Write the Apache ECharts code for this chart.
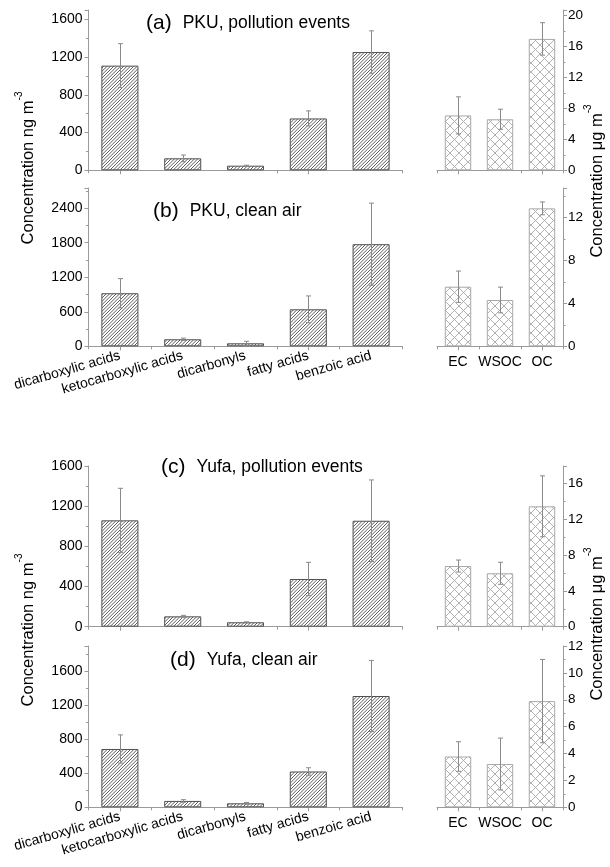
<!DOCTYPE html>
<html>
<head>
<meta charset="utf-8">
<script src="https://cdn.jsdelivr.net/npm/echarts@6/dist/echarts.min.js"></script>
<style>
html,body{margin:0;padding:0;background:#fff;}
#chart{width:610px;height:867px;}
</style>
</head>
<body>
<div id="chart"></div>
<script>
// ---- data ----
const organicCats = ['dicarboxylic acids', 'ketocarboxylic acids', 'dicarbonyls', 'fatty acids', 'benzoic acid'];
const carbonCats = ['EC', 'WSOC', 'OC'];

const panelTitles = ['(a)', '(b)', '(c)', '(d)'];
const panelNames = ['PKU, pollution events', 'PKU, clean air', 'Yufa, pollution events', 'Yufa, clean air'];

const pkuPollutionOrganic = [1110, 127, 49, 550, 1254];
const pkuPollutionOrganicErr = [233, 35, 5, 80, 225];
const pkuPollutionCarbon = [7.1, 6.6, 17.0];
const pkuPollutionCarbonErr = [2.4, 1.3, 2.1];

const pkuCleanOrganic = [922, 122, 52, 643, 1774];
const pkuCleanOrganicErr = [254, 20, 35, 232, 713];
const pkuCleanCarbon = [5.56, 4.32, 12.87];
const pkuCleanCarbonErr = [1.46, 1.2, 0.6];

const yufaPollutionOrganic = [1059, 103, 44, 475, 1055];
const yufaPollutionOrganicErr = [319, 10, 5, 166, 406];
const yufaPollutionCarbon = [6.77, 5.96, 13.43];
const yufaPollutionCarbonErr = [0.67, 1.23, 3.4];

const yufaCleanOrganic = [687, 75, 47, 422, 1311];
const yufaCleanOrganicErr = [166, 15, 10, 44, 419];
const yufaCleanCarbon = [3.78, 3.22, 7.9];
const yufaCleanCarbonErr = [1.1, 1.93, 3.1];

const organicTicks = [400, 600, 400, 400];   // tick step of left axes
const carbonTicks = [4, 4, 4, 2];            // tick step of right axes
const organicMax = [1700, 2750, 1600, 1900];
const carbonMax = [20.74, 14.77, 17.93, 12];

// ---- layout ----
const FONT = 'Liberation Sans, Arial, sans-serif';
const layout = [
  {top: 10, h: 160.3, titleY: 26, titleX: 146},
  {top: 188, h: 158.3, titleY: 214, titleX: 153},
  {top: 466, h: 160.7, titleY: 470, titleX: 161},
  {top: 646, h: 161.3, titleY: 663, titleX: 170}
];
const organicData = [pkuPollutionOrganic, pkuCleanOrganic, yufaPollutionOrganic, yufaCleanOrganic];
const organicErr = [pkuPollutionOrganicErr, pkuCleanOrganicErr, yufaPollutionOrganicErr, yufaCleanOrganicErr];
const carbonData = [pkuPollutionCarbon, pkuCleanCarbon, yufaPollutionCarbon, yufaCleanCarbon];
const carbonErr = [pkuPollutionCarbonErr, pkuCleanCarbonErr, yufaPollutionCarbonErr, yufaCleanCarbonErr];
const showCats = [false, true, false, true];

// ---- patterns ----
function hatch() {
  const s = 10, c = document.createElement('canvas');
  c.width = s; c.height = s;
  const ctx = c.getContext('2d');
  ctx.fillStyle = '#fff'; ctx.fillRect(0, 0, s, s);
  ctx.strokeStyle = '#4a4a4a'; ctx.lineWidth = 0.9;
  const step = s / 3;
  for (let k = -1; k <= 7; k++) {
    const cc = k * step;
    ctx.beginPath(); ctx.moveTo(cc + 1, -1); ctx.lineTo(cc - s - 1, s + 1); ctx.stroke();
  }
  return c;
}
function cross() {
  const s = 9, c = document.createElement('canvas');
  c.width = s; c.height = s;
  const ctx = c.getContext('2d');
  ctx.fillStyle = '#fff'; ctx.fillRect(0, 0, s, s);
  ctx.strokeStyle = '#a8a8a8'; ctx.lineWidth = 0.9;
  for (let k = -1; k <= 2; k++) {
    const cc = k * s;
    ctx.beginPath(); ctx.moveTo(cc + 1, -1); ctx.lineTo(cc - s - 1, s + 1); ctx.stroke();
    ctx.beginPath(); ctx.moveTo(cc - 1, -1); ctx.lineTo(cc + s + 1, s + 1); ctx.stroke();
  }
  return c;
}
const hatchPat = {image: hatch(), repeat: 'repeat'};
const crossPat = {image: cross(), repeat: 'repeat'};

function errRender(params, api) {
  const x = api.value(0), v = api.value(1), e = api.value(2);
  const hi = api.coord([x, v + e]);
  const lo = api.coord([x, v - e]);
  const hw = 2.5;
  const st = {stroke: '#8a8a8a', lineWidth: 1};
  const px = Math.round(hi[0]) + 0.5;
  return {
    type: 'group',
    children: [
      {type: 'line', shape: {x1: px, y1: hi[1], x2: px, y2: lo[1]}, style: st},
      {type: 'line', shape: {x1: px - hw, y1: hi[1], x2: px + hw, y2: hi[1]}, style: st},
      {type: 'line', shape: {x1: px - hw, y1: lo[1], x2: px + hw, y2: lo[1]}, style: st}
    ]
  };
}

const AX = '#9a9a9a';
const plain = v => String(Math.round(v * 1000) / 1000);
const grids = [], xAxes = [], yAxes = [], series = [], graphics = [];

layout.forEach((L, p) => {
  const gl = 2 * p, gr = 2 * p + 1;
  grids.push({left: 88.5, width: 314, top: L.top, height: L.h, outerBoundsMode: 'none', containLabel: false});
  grids.push({left: 437, width: 126, top: L.top, height: L.h, outerBoundsMode: 'none', containLabel: false});

  [[gl, organicCats, true], [gr, carbonCats, false]].forEach(([g, cats, isOrg]) => {
    xAxes.push({
      type: 'category', gridIndex: g, data: cats, position: 'bottom',
      axisLine: {show: true, lineStyle: {color: AX, width: 1}},
      axisTick: {show: true, alignWithLabel: false, length: 3, lineStyle: {color: AX}},
      axisLabel: showCats[p] ? (isOrg ? {
        show: true, rotate: 16, margin: 9, fontSize: 14, color: '#000', fontFamily: FONT, interval: 0
      } : {
        show: true, rotate: 0, margin: 9, fontSize: 14, color: '#000', fontFamily: FONT, interval: 0
      }) : {show: false},
      splitLine: {show: false}
    });
    xAxes.push({
      type: 'category', gridIndex: g, data: cats, position: 'bottom',
      axisLine: {show: false},
      axisTick: {show: true, alignWithLabel: true, length: 4, lineStyle: {color: AX}},
      axisLabel: {show: false},
      splitLine: {show: false}
    });
  });

  const lMax = organicMax[p], rMax = carbonMax[p];
  yAxes.push({
    type: 'value', gridIndex: gl, position: 'left', min: 0, max: lMax, interval: organicTicks[p],
    axisLine: {show: true, lineStyle: {color: AX}},
    axisTick: {show: true, length: 4, lineStyle: {color: AX}},
    minorTick: {show: true, splitNumber: 2, length: 2.5, lineStyle: {color: AX}},
    splitLine: {show: false}, minorSplitLine: {show: false},
    axisLabel: {color: '#000', fontSize: 14, fontFamily: FONT, margin: 6, formatter: plain,
      showMaxLabel: lMax % organicTicks[p] === 0}
  });
  yAxes.push({
    type: 'value', gridIndex: gr, position: 'right', min: 0, max: rMax, interval: carbonTicks[p],
    axisLine: {show: true, lineStyle: {color: AX}},
    axisTick: {show: true, length: 4, lineStyle: {color: AX}},
    minorTick: {show: true, splitNumber: 2, length: 2.5, lineStyle: {color: AX}},
    splitLine: {show: false}, minorSplitLine: {show: false},
    axisLabel: {color: '#000', fontSize: 13.5, fontFamily: FONT, margin: 5, formatter: plain,
      showMaxLabel: Math.abs(rMax % carbonTicks[p]) < 1e-9}
  });

  series.push({
    type: 'bar', xAxisIndex: 2 * gl, yAxisIndex: gl, data: organicData[p], barWidth: '59%',
    itemStyle: {color: hatchPat, borderColor: '#505050', borderWidth: 1}, silent: true, z: 2
  });
  series.push({
    type: 'custom', xAxisIndex: 2 * gl, yAxisIndex: gl, renderItem: errRender, z: 5, silent: true,
    data: organicData[p].map((v, i) => [i, v, organicErr[p][i]])
  });
  series.push({
    type: 'bar', xAxisIndex: 2 * gr, yAxisIndex: gr, data: carbonData[p], barWidth: '63%',
    itemStyle: {color: crossPat, borderColor: '#a8a8a8', borderWidth: 1}, silent: true, z: 2
  });
  series.push({
    type: 'custom', xAxisIndex: 2 * gr, yAxisIndex: gr, renderItem: errRender, z: 5, silent: true,
    data: carbonData[p].map((v, i) => [i, v, carbonErr[p][i]])
  });

  graphics.push({
    type: 'text', left: L.titleX, top: L.titleY - 13, z: 10,
    style: {
      text: '{p|' + panelTitles[p] + '}{t|' + panelNames[p] + '}',
      rich: {
        p: {fontSize: 21, fontFamily: FONT, fill: '#000', padding: [0, 11, 0, 0], lineHeight: 26},
        t: {fontSize: 17.5, fontFamily: FONT, fill: '#000', lineHeight: 26}
      }
    }
  });
});

function yTitle(x, y, unit) {
  return {
    type: 'text', x: x, y: y, rotation: Math.PI / 2, z: 10,
    style: {
      text: '{m|Concentration ' + unit + ' m}{s|-3}',
      align: 'center', verticalAlign: 'middle',
      rich: {
        m: {fontSize: 16.5, fontFamily: FONT, fill: '#000', lineHeight: 28, verticalAlign: 'middle'},
        s: {fontSize: 10, fontFamily: FONT, fill: '#000', lineHeight: 10, verticalAlign: 'top'}
      }
    }
  };
}
graphics.push(yTitle(28, 168, 'ng'));
graphics.push(yTitle(597, 181, 'μg'));
graphics.push(yTitle(28, 630, 'ng'));
graphics.push(yTitle(597, 624, 'μg'));

const chart = echarts.init(document.getElementById('chart'), null, {renderer: 'canvas'});
chart.setOption({
  animation: false,
  backgroundColor: '#fff',
  grid: grids,
  xAxis: xAxes,
  yAxis: yAxes,
  series: series,
  graphic: graphics
});
</script>
</body>
</html>
